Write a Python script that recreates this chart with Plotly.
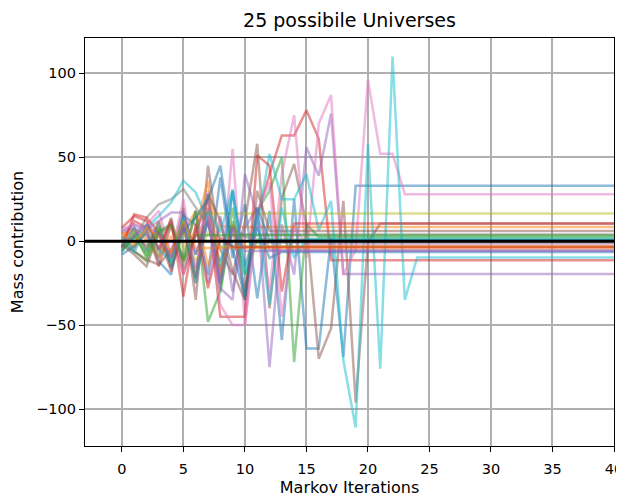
import plotly.graph_objects as go

iterations = list(range(0, 41))

s00 = [-6, 4, -3, 8, -12, 15, 10, -20, 38, -10, 22, -34, 18, -59, 25, -64, -64, 2, -69,
       33, 33, 33, 33, 33, 33, 33, 33, 33, 33,
       33, 33, 33, 33, 33, 33, 33, 33, 33, 33,
       33, 33]
s01 = [2, 6, -4, 12, -8, 5, 18, -15, 9,
       8.5, 8.5, 8.5, 8.5, 8.5, 8.5, 8.5, 8.5, 8.5, 8.5,
       8.5, 8.5, 8.5, 8.5, 8.5, 8.5, 8.5, 8.5, 8.5, 8.5,
       8.5, 8.5, 8.5, 8.5, 8.5, 8.5, 8.5, 8.5, 8.5, 8.5,
       8.5, 8.5]
s02 = [-3, 5, -10, 8, -15, 12, -22, 14, -30, 20, -35, 18, 30, 50, -72, 10,
       2.5, 2.5, 2.5, 2.5, 2.5, 2.5, 2.5, 2.5, 2.5, 2.5,
       2.5, 2.5, 2.5, 2.5, 2.5, 2.5, 2.5, 2.5, 2.5, 2.5,
       2.5, 2.5, 2.5, 2.5, 2.5]
s03 = [0, 12, 8, -15, 10, -20, 5, 25, -18, 8, -30, 15, 40, 63, 63, 78, 61,
       -11.3, -11.3, -11.3, -11.3, -11.3, -11.3, -11.3, -11.3, -11.3, -11.3,
       -11.3, -11.3, -11.3, -11.3, -11.3, -11.3, -11.3, -11.3, -11.3, -11.3,
       -11.3, -11.3, -11.3, -11.3]
s04 = [5, 8, 3, -6, 10, -12, 18, -25, 15, -30, 8, 20, -75, 10, -20, 56, 39, 76,
       -19.6, -19.6, -19.6, -19.6, -19.6, -19.6, -19.6, -19.6, -19.6, -19.6,
       -19.6, -19.6, -19.6, -19.6, -19.6, -19.6, -19.6, -19.6, -19.6, -19.6,
       -19.6, -19.6, -19.6]
s05 = [-2, -8, -15, 5, -10, 20, -35, 45, -5, -20, 12, 58, -40, 26, 46, 10, -70, -52, 24, -96, -1,
       10.5, 10.5, 10.5, 10.5, 10.5, 10.5, 10.5, 10.5, 10.5, 10.5,
       10.5, 10.5, 10.5, 10.5, 10.5, 10.5, 10.5, 10.5, 10.5, 10.5]
s06 = [3, -5, 10, 18, -8, 25, -20, 30, -25, 55, -50, 15, -30, 40, 75, -10, 70, 87, -20, -5, 96, 52, 52,
       28, 28, 28, 28, 28, 28, 28, 28, 28, 28,
       28, 28, 28, 28, 28, 28, 28, 28]
s07 = [-4, 2, 14, 22, 25, 31, 20, 10, -12,
       4, 4, 4, 4, 4, 4, 4, 4, 4, 4,
       4, 4, 4, 4, 4, 4, 4, 4, 4, 4,
       4, 4, 4, 4, 4, 4, 4, 4, 4, 4,
       4, 4]
s08 = [1, -3, 6, -8, 10, -5,
       16.5, 16.5, 16.5, 16.5, 16.5, 16.5, 16.5, 16.5, 16.5, 16.5,
       16.5, 16.5, 16.5, 16.5, 16.5, 16.5, 16.5, 16.5, 16.5, 16.5,
       16.5, 16.5, 16.5, 16.5, 16.5, 16.5, 16.5, 16.5, 16.5, 16.5,
       16.5, 16.5, 16.5, 16.5, 16.5]
s09 = [-5, 2, 8, 15, 23, 36, 29, 12, -15, 30, -35, 10, 52, 25, 25, 40, 6.5, 24, -71, -111, 58, -76, 110, -35,
       -9.7, -9.7, -9.7, -9.7, -9.7, -9.7, -9.7, -9.7, -9.7, -9.7,
       -9.7, -9.7, -9.7, -9.7, -9.7, -9.7, -9.7]
s10 = [-8, -3, 5, -12, -20, 16, -8, 12, -25, 30, -15, 8, -10,
       -6.4, -6.4, -6.4, -6.4, -6.4, -6.4, -6.4, -6.4, -6.4, -6.4,
       -6.4, -6.4, -6.4, -6.4, -6.4, -6.4, -6.4, -6.4, -6.4, -6.4,
       -6.4, -6.4, -6.4, -6.4, -6.4, -6.4, -6.4, -6.4]
s11 = [4, 7, 1, -10, 3, -12, 8, 36, -20, 10,
       -3.4, -3.4, -3.4, -3.4, -3.4, -3.4, -3.4, -3.4, -3.4, -3.4,
       -3.4, -3.4, -3.4, -3.4, -3.4, -3.4, -3.4, -3.4, -3.4, -3.4,
       -3.4, -3.4, -3.4, -3.4, -3.4, -3.4, -3.4, -3.4, -3.4, -3.4,
       -3.4]
s12 = [0, -6, -12, 5, 9, -10, 18, -48, -30, 12, -20,
       1, 1, 1, 1, 1, 1, 1, 1, 1, 1,
       1, 1, 1, 1, 1, 1, 1, 1, 1, 1,
       1, 1, 1, 1, 1, 1, 1, 1, 1, 1]
s13 = [-4, 16, 14, 5, -18, 10, -25, 20, -45, -45, -45, 51, 45, -30,
       10.5, 10.5, 10.5, 10.5, 10.5, 10.5, 10.5, 10.5, 10.5, 10.5,
       10.5, 10.5, 10.5, 10.5, 10.5, 10.5, 10.5, 10.5, 10.5, 10.5,
       10.5, 10.5, 10.5, 10.5, 10.5, 10.5, 10.5]
s14 = [6, 10, 7, 12, 17, 17, -8, 15, -28, -35, 40, 15,
       -5.4, -5.4, -5.4, -5.4, -5.4, -5.4, -5.4, -5.4, -5.4, -5.4,
       -5.4, -5.4, -5.4, -5.4, -5.4, -5.4, -5.4, -5.4, -5.4, -5.4,
       -5.4, -5.4, -5.4, -5.4, -5.4, -5.4, -5.4, -5.4, -5.4]
s15 = [-2, -6, -11, -14, -5, 8, -22, 28, 12, -18, -35, 30,
       6, 6, 6, 6, 6, 6, 6, 6, 6, 6,
       6, 6, 6, 6, 6, 6, 6, 6, 6, 6,
       6, 6, 6, 6, 6, 6, 6, 6, 6]
s16 = [7, 10, 5, -4, 12, -20, 3, 15, -38, -50, -50, 18, 35, -45, 8,
       -2, -2, -2, -2, -2, -2, -2, -2, -2, -2,
       -2, -2, -2, -2, -2, -2, -2, -2, -2, -2,
       -2, -2, -2, -2, -2, -2]
s17 = [1, -4, 6, -10, 14, -16, 5, 28, -22, 8, 3,
       -1, -1, -1, -1, -1, -1, -1, -1, -1, -1,
       -1, -1, -1, -1, -1, -1, -1, -1, -1, -1,
       -1, -1, -1, -1, -1, -1, -1, -1, -1, -1]
s18 = [-2, 4, -6, 9, -14, 6, -12, 5,
       -3, -3, -3, -3, -3, -3, -3, -3, -3, -3,
       -3, -3, -3, -3, -3, -3, -3, -3, -3, -3,
       -3, -3, -3, -3, -3, -3, -3, -3, -3, -3,
       -3, -3, -3]
s19 = [3, -7, 10, -5, -12, 14, -25, 18, 5, 31, -20, 15, -38, 20, -10,
       1.5, 1.5, 1.5, 1.5, 1.5, 1.5, 1.5, 1.5, 1.5, 1.5,
       1.5, 1.5, 1.5, 1.5, 1.5, 1.5, 1.5, 1.5, 1.5, 1.5,
       1.5, 1.5, 1.5, 1.5, 1.5, 1.5]
s20 = [-3, 8, -6, 11, -16, 6, 14, 25, 45, -5, -33, 20,
       0.5, 0.5, 0.5, 0.5, 0.5, 0.5, 0.5, 0.5, 0.5, 0.5,
       0.5, 0.5, 0.5, 0.5, 0.5, 0.5, 0.5, 0.5, 0.5, 0.5,
       0.5, 0.5, 0.5, 0.5, 0.5, 0.5, 0.5, 0.5, 0.5]
s21 = [5, -2, 8, 3, -7, 12, -4,
       -4, -4, -4, -4, -4, -4, -4, -4, -4, -4,
       -4, -4, -4, -4, -4, -4, -4, -4, -4, -4,
       -4, -4, -4, -4, -4, -4, -4, -4, -4, -4,
       -4, -4, -4, -4]
s22 = [-6, 3, -8, 6, 10, -12,
       3.5, 3.5, 3.5, 3.5, 3.5, 3.5, 3.5, 3.5, 3.5, 3.5,
       3.5, 3.5, 3.5, 3.5, 3.5, 3.5, 3.5, 3.5, 3.5, 3.5,
       3.5, 3.5, 3.5, 3.5, 3.5, 3.5, 3.5, 3.5, 3.5, 3.5,
       3.5, 3.5, 3.5, 3.5, 3.5]
s23 = [8, 15, 12, -5, 13, -33, 10, -28, 2,
       -3.5, -3.5, -3.5, -3.5, -3.5, -3.5, -3.5, -3.5, -3.5, -3.5,
       -3.5, -3.5, -3.5, -3.5, -3.5, -3.5, -3.5, -3.5, -3.5, -3.5,
       -3.5, -3.5, -3.5, -3.5, -3.5, -3.5, -3.5, -3.5, -3.5, -3.5,
       -3.5, -3.5]
s24 = [-1, 3, 10, 4, -10, 9, -16, 12, -25, 8,
       -5.9, -5.9, -5.9, -5.9, -5.9, -5.9, -5.9, -5.9, -5.9, -5.9,
       -5.9, -5.9, -5.9, -5.9, -5.9, -5.9, -5.9, -5.9, -5.9, -5.9,
       -5.9, -5.9, -5.9, -5.9, -5.9, -5.9, -5.9, -5.9, -5.9, -5.9,
       -5.9]

x_ticks = [0, 5, 10, 15, 20, 25, 30, 35, 40]
y_ticks = [-100, -50, 0, 50, 100]

series = [s00, s01, s02, s03, s04, s05, s06, s07, s08, s09,
          s10, s11, s12, s13, s14, s15, s16, s17, s18, s19,
          s20, s21, s22, s23, s24]
for k, s in enumerate(series):
    assert len(s) == len(iterations), (k, len(s))

palette = ["#1f77b4", "#ff7f0e", "#2ca02c", "#d62728", "#9467bd",
           "#8c564b", "#e377c2", "#7f7f7f", "#bcbd22", "#17becf"]

fig = go.Figure()
for k, s in enumerate(series):
    fig.add_trace(go.Scatter(
        x=iterations, y=s, mode="lines",
        line=dict(color=palette[k % 10], width=2.5),
        opacity=0.5, showlegend=False, hoverinfo="skip"))

fig.add_shape(type="line", xref="paper", yref="y", x0=0, x1=1, y0=0, y1=0,
              line=dict(color="black", width=3), layer="above")

font_family = "DejaVu Sans"
axis_common = dict(
    showgrid=True, gridcolor="#b0b0b0", gridwidth=1.5,
    showline=True, linecolor="black", linewidth=1.2, mirror=True,
    ticks="outside", ticklen=5, tickwidth=1.2, tickcolor="black",
    zeroline=False, automargin=False,
    tickfont=dict(family=font_family, size=14.5, color="black"),
)

# page body adds an 8px offset, so the figure is 616x494
W, H = 616, 494
fig.update_layout(
    width=W, height=H,
    margin=dict(l=77, r=10, t=30, b=56, autoexpand=False),
    paper_bgcolor="white", plot_bgcolor="white",
    title=dict(text="25 possibile Universes", x=0.5, xref="paper",
               y=1 - 12 / H, yref="container", yanchor="middle",
               automargin=False,
               font=dict(family=font_family, size=19, color="black")),
    xaxis=dict(range=[-3, 40], tickvals=x_ticks, ticklabeloverflow="allow",
               ticklabelstandoff=4,
               title=dict(text="Markov Iterations", standoff=6,
                          font=dict(family=font_family, size=16, color="black")),
               **axis_common),
    yaxis=dict(range=[-122, 121], tickvals=y_ticks,
               title=dict(text="Mass contribution", standoff=18,
                          font=dict(family=font_family, size=16, color="black")),
               **axis_common),
)

fig.write_html("out.html")
